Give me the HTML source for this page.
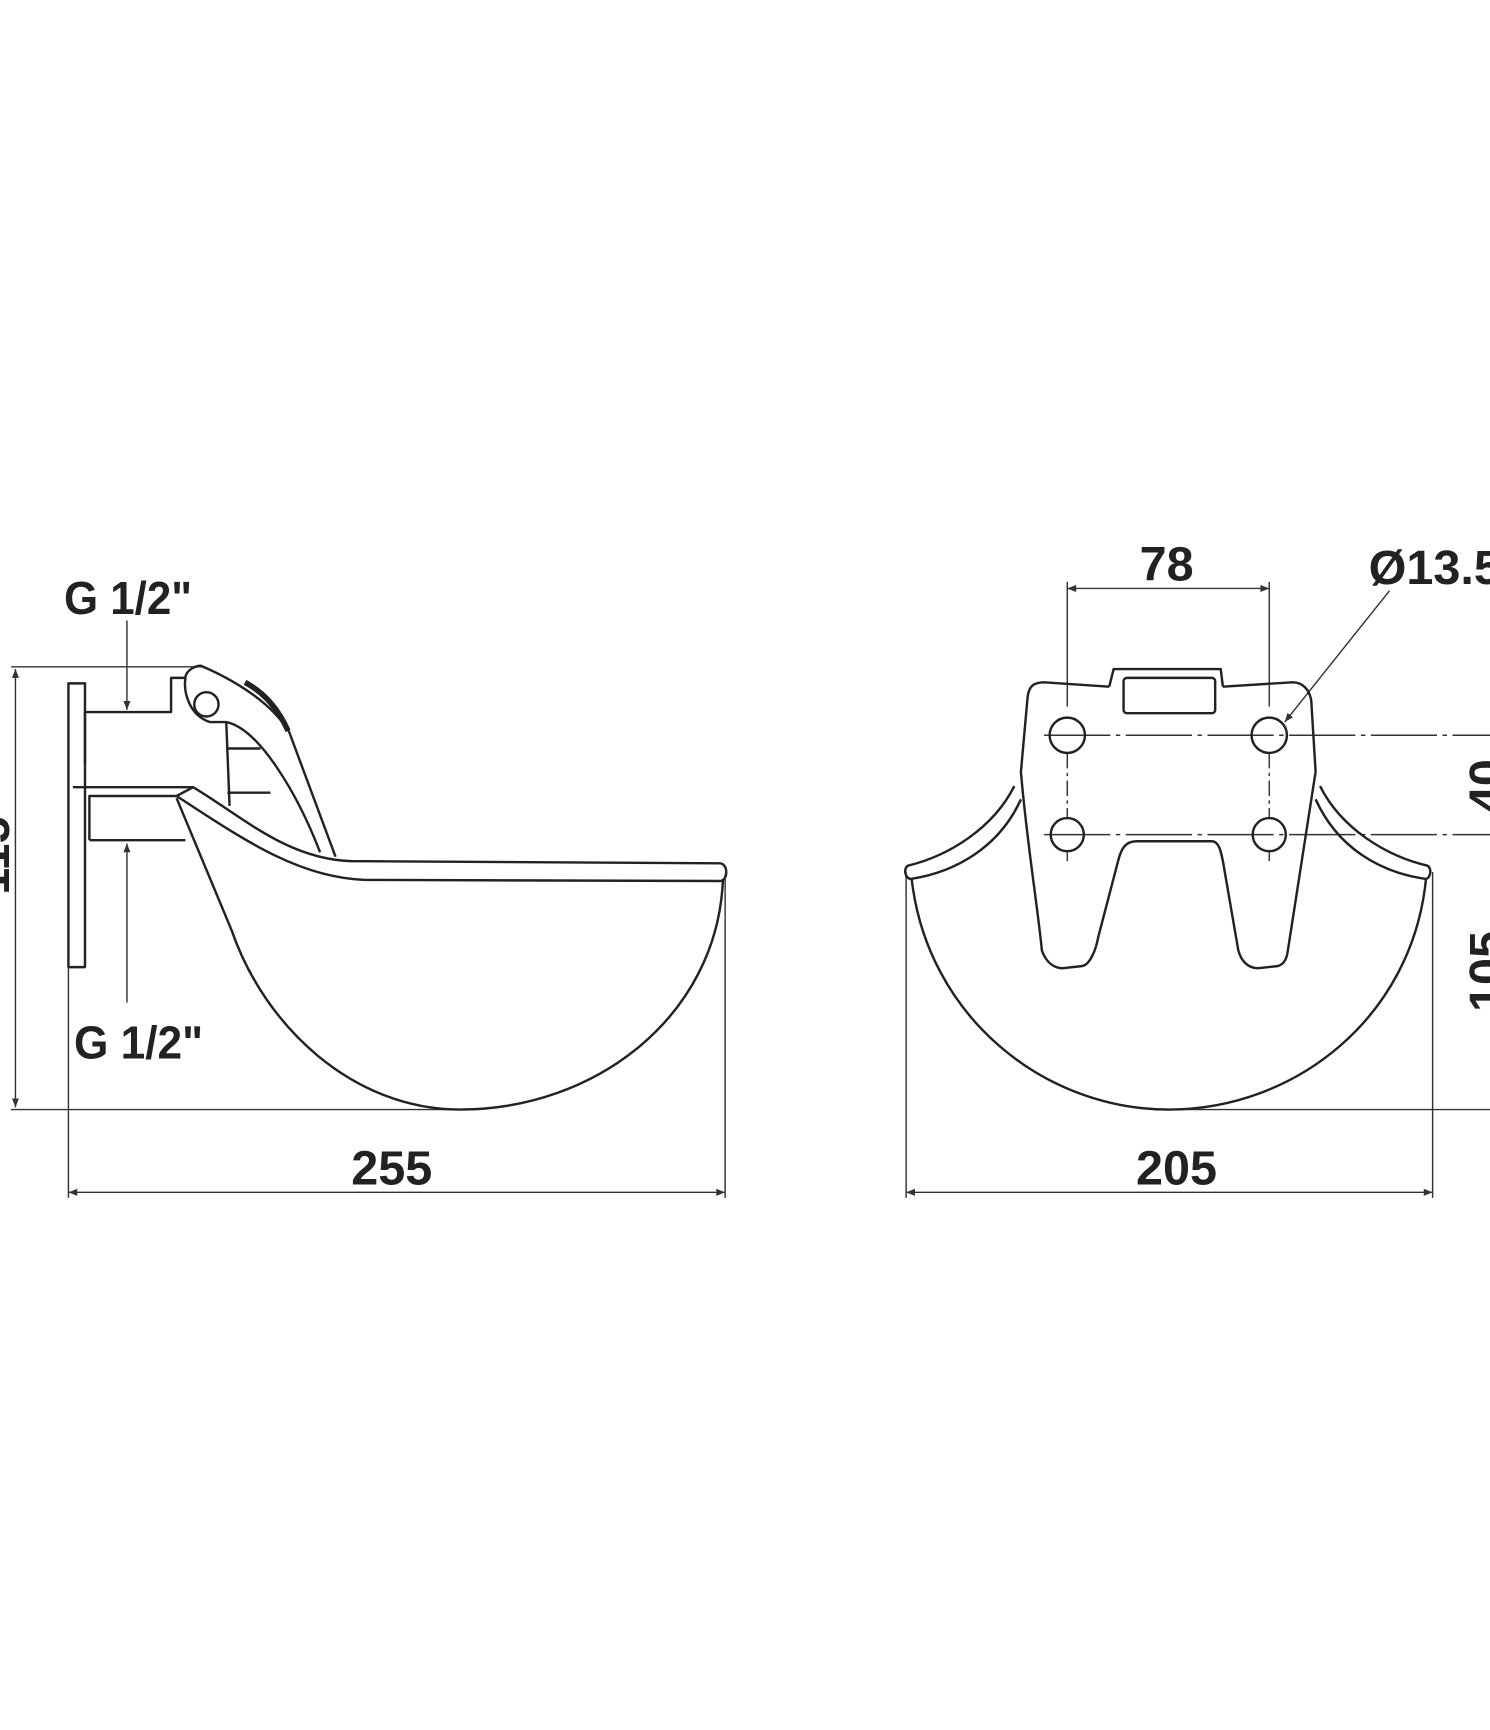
<!DOCTYPE html>
<html><head><style>
html,body{margin:0;padding:0;background:#fff;}
svg{display:block;}
text{font-family:"Liberation Sans",sans-serif;font-weight:bold;fill:#222;}
</style></head><body>
<svg width="1490" height="1730" viewBox="0 0 1350 1567" preserveAspectRatio="none" xmlns="http://www.w3.org/2000/svg">
<defs>
<marker id="a" viewBox="0 0 10 10" refX="10" refY="5" markerWidth="14" markerHeight="8" orient="auto-start-reverse" markerUnits="userSpaceOnUse"><path d="M0,1 L10,5 L0,9 z" fill="#333"/></marker>
</defs>
<g fill="none" stroke="#333" stroke-width="1.3">
<!-- left view dims -->
<line x1="10" y1="604" x2="183" y2="604"/>
<line x1="10" y1="1005" x2="420" y2="1005"/>
<line x1="14" y1="606" x2="14" y2="1003" marker-start="url(#a)" marker-end="url(#a)"/>
<line x1="62" y1="877" x2="62" y2="1085"/>
<line x1="657" y1="792" x2="657" y2="1085"/>
<line x1="62" y1="1080" x2="657" y2="1080" marker-start="url(#a)" marker-end="url(#a)"/>
<line x1="115" y1="562" x2="115" y2="643" marker-end="url(#a)"/>
<line x1="115" y1="908" x2="115" y2="764" marker-end="url(#a)"/>
<!-- right view dims -->
<line x1="967" y1="527" x2="967" y2="640"/>
<line x1="1150" y1="527" x2="1150" y2="640"/>
<line x1="967" y1="533" x2="1150" y2="533" marker-start="url(#a)" marker-end="url(#a)"/>
<line x1="967" y1="682" x2="967" y2="740" stroke-dasharray="14,4,3,4"/>
<line x1="1150" y1="682" x2="1150" y2="740" stroke-dasharray="14,4,3,4"/>
<line x1="967" y1="772" x2="967" y2="780"/>
<line x1="1150" y1="772" x2="1150" y2="780"/>
<line x1="946" y1="666" x2="1350" y2="666" stroke-dasharray="60,5,4,5"/>
<line x1="946" y1="756" x2="1350" y2="756" stroke-dasharray="60,5,4,5"/>
<line x1="1062" y1="1005" x2="1350" y2="1005"/>
<line x1="821" y1="790" x2="821" y2="1085"/>
<line x1="1298" y1="790" x2="1298" y2="1085"/>
<line x1="821" y1="1080" x2="1298" y2="1080" marker-start="url(#a)" marker-end="url(#a)"/>
<line x1="1259" y1="535" x2="1164" y2="654" marker-end="url(#a)"/>
</g>
<g fill="none" stroke="#222" stroke-width="2.2" stroke-linejoin="round">
<!-- left view -->
<rect x="62" y="619" width="15" height="257"/>
<path d="M77,692 V645 H155 V614 H168"/>
<path d="M66,713 H175"/>
<path d="M81,761 V721 H160"/>
<path d="M81,761 H168"/>
<path d="M168,614 C168,608 176,603 182,603 C210,615 245,635 262,663 L304,776"/>
<path d="M168,614 C166,628 172,648 190,654 L205,654 C235,660 270,720 290,772"/>
<circle cx="187" cy="638" r="11"/>
<path d="M222,618 C240,628 252,642 261,662" stroke-width="5"/>
<path d="M205,654 L208,730 M205,678 H236 M206,718 H245"/>
<path d="M175,713 C220,740 260,778 318,780 L652,782 C660,782 660,798 652,798 L331,797 C270,795 220,760 160,721 Z"/>
<path d="M160,723 L210,843 C240,930 320,1005 417,1005 C540,1005 650,920 655,797"/>
<!-- right view -->
<path d="M1005,622 L946,618 C936,618 932,622 931,632 L925,699 C930,760 940,820 944,861 C948,872 955,877 963,877 L981,875 C988,873 993,860 995,849 L1013,780 C1016,768 1020,762 1030,762 L1098,762 C1104,762 1106,770 1108,780 L1122,861 C1125,872 1132,877 1140,877 L1158,875 C1164,873 1166,868 1167,860 L1192,699 L1188,634 C1186,624 1180,618 1171,618 L1108,622"/>
<path d="M1005,622 L1009,606 H1106 L1108,622"/>
<rect x="1018" y="614" width="83" height="32" rx="3"/>
<circle cx="967" cy="666" r="16"/><circle cx="1150" cy="666" r="16"/>
<circle cx="967" cy="756" r="15"/><circle cx="1150" cy="756" r="15"/>
<path d="M919,712 C900,750 860,775 823,784 C818,786 820,797 826,796 C865,790 905,768 925,724"/>
<path d="M1196,712 C1215,750 1255,775 1293,784 C1298,786 1296,797 1291,796 C1250,790 1212,768 1192,724"/>
<path d="M826,796 C840,920 945,1005 1059,1005 C1175,1005 1280,920 1292,796"/>
</g>
<g font-size="42">
<text x="58" y="556" textLength="116" lengthAdjust="spacingAndGlyphs">G 1/2"</text>
<text x="67" y="959" textLength="117" lengthAdjust="spacingAndGlyphs">G 1/2"</text>
<text x="355" y="1073" text-anchor="middle" font-size="44">255</text>
<text x="1066" y="1073" text-anchor="middle" font-size="44">205</text>
<text x="1057" y="526" text-anchor="middle" font-size="44">78</text>
<text x="1240" y="529" font-size="44">Ø13.5</text>
<text transform="translate(1362,712) rotate(-90)" text-anchor="middle" font-size="44">40</text>
<text transform="translate(1362,880) rotate(-90)" text-anchor="middle" font-size="44">105</text>
<text transform="translate(8,775) rotate(-90)" text-anchor="middle" font-size="44">115</text>
</g>
</svg>
</body></html>
